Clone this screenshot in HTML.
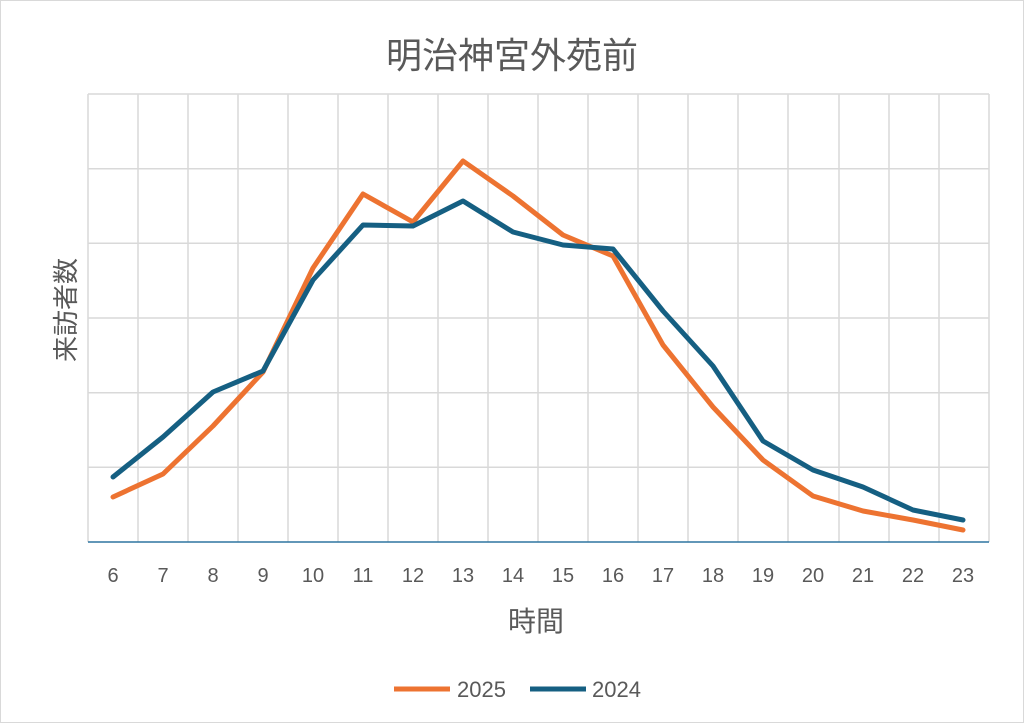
<!DOCTYPE html>
<html><head><meta charset="utf-8"><style>
body{margin:0;background:#fff}
text{font-family:"Liberation Sans","Noto Sans CJK JP",sans-serif;fill:#595959}
</style></head><body>
<svg width="1024" height="723" viewBox="0 0 1024 723" xmlns="http://www.w3.org/2000/svg">
<rect x="0.5" y="0.5" width="1023" height="722" fill="#fff" stroke="#d9d9d9"/>
<text x="512" y="68" font-size="36" text-anchor="middle">明治神宮外苑前</text>
<g stroke="#d9d9d9" stroke-width="1.5">
<line x1="88" y1="94" x2="989" y2="94"/><line x1="88" y1="168.7" x2="989" y2="168.7"/><line x1="88" y1="243.3" x2="989" y2="243.3"/><line x1="88" y1="318" x2="989" y2="318"/><line x1="88" y1="392.7" x2="989" y2="392.7"/><line x1="88" y1="467.3" x2="989" y2="467.3"/>
<line x1="88" y1="94" x2="88" y2="542"/><line x1="138" y1="94" x2="138" y2="542"/><line x1="188" y1="94" x2="188" y2="542"/><line x1="238" y1="94" x2="238" y2="542"/><line x1="288" y1="94" x2="288" y2="542"/><line x1="338" y1="94" x2="338" y2="542"/><line x1="388" y1="94" x2="388" y2="542"/><line x1="438" y1="94" x2="438" y2="542"/><line x1="488" y1="94" x2="488" y2="542"/><line x1="538" y1="94" x2="538" y2="542"/><line x1="588" y1="94" x2="588" y2="542"/><line x1="638" y1="94" x2="638" y2="542"/><line x1="688" y1="94" x2="688" y2="542"/><line x1="738" y1="94" x2="738" y2="542"/><line x1="788" y1="94" x2="788" y2="542"/><line x1="839" y1="94" x2="839" y2="542"/><line x1="889" y1="94" x2="889" y2="542"/><line x1="939" y1="94" x2="939" y2="542"/><line x1="989" y1="94" x2="989" y2="542"/>
</g>
<line x1="88" y1="542" x2="989" y2="542" stroke="#2e75a0" stroke-width="1.5"/>
<polyline fill="none" stroke="#ed7331" stroke-width="5" stroke-linejoin="round" stroke-linecap="round" points="113,497 163,474 213,426 263,372 313,268 363,194 413,222 463,161 513,196 563,235 613,256 663,345 713,407 763,460 813,496 863,511 913,520 963,530"/>
<polyline fill="none" stroke="#155f82" stroke-width="5" stroke-linejoin="round" stroke-linecap="round" points="113,477 163,437 213,392 263,371 313,280 363,225 413,226 463,201 513,232 563,245 613,249 663,311 713,366 763,441 813,470 863,487 913,510 963,520"/>
<g font-size="20" text-anchor="middle">
<text x="113" y="582">6</text><text x="163" y="582">7</text><text x="213" y="582">8</text><text x="263" y="582">9</text><text x="313" y="582">10</text><text x="363" y="582">11</text><text x="413" y="582">12</text><text x="463" y="582">13</text><text x="513" y="582">14</text><text x="563" y="582">15</text><text x="613" y="582">16</text><text x="663" y="582">17</text><text x="713" y="582">18</text><text x="763" y="582">19</text><text x="813" y="582">20</text><text x="863" y="582">21</text><text x="913" y="582">22</text><text x="963" y="582">23</text>
</g>
<text x="536" y="631" font-size="28" text-anchor="middle">時間</text>
<text transform="translate(75,310) rotate(-90)" font-size="26" text-anchor="middle">来訪者数</text>
<line x1="394" y1="689" x2="450" y2="689" stroke="#ed7331" stroke-width="5"/>
<text x="457" y="697" font-size="22">2025</text>
<line x1="530" y1="689" x2="586" y2="689" stroke="#155f82" stroke-width="5"/>
<text x="592" y="697" font-size="22">2024</text>
</svg>
</body></html>
